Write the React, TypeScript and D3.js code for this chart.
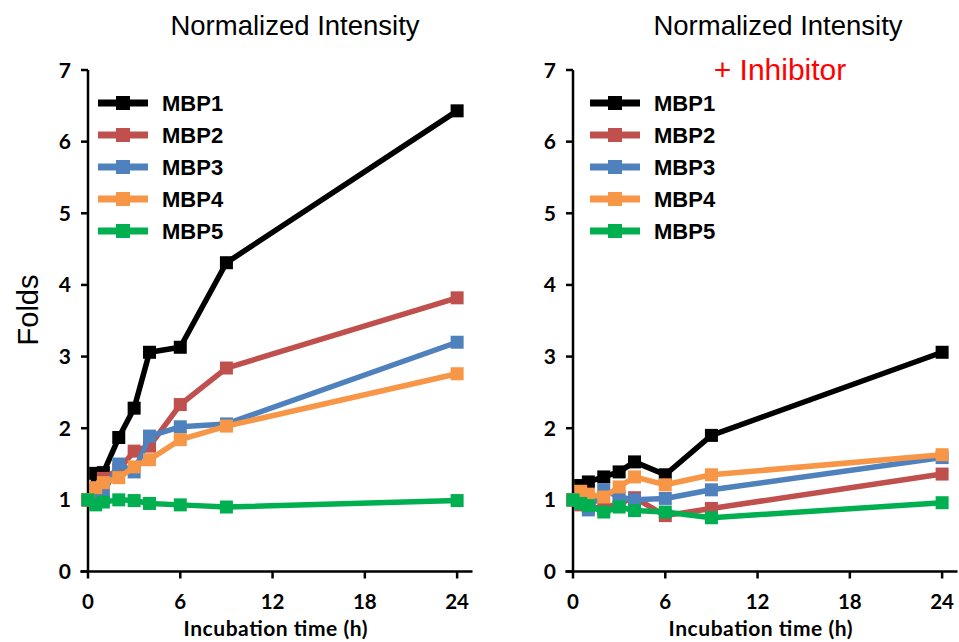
import React from "react";
import * as d3 from "d3";

// Sampling times (hours)
const times = [0, 0.5, 1, 2, 3, 4, 6, 9, 24];
const seriesNames = ["MBP1", "MBP2", "MBP3", "MBP4", "MBP5"];
const seriesColors = ["#000000", "#C0504D", "#4F81BD", "#F79646", "#00B050"];

// Normalized intensity (folds), no inhibitor
const mbp1 = [1.0, 1.37, 1.38, 1.87, 2.28, 3.06, 3.13, 4.31, 6.43];
const mbp2 = [1.0, 1.15, 1.3, 1.42, 1.68, 1.75, 2.33, 2.84, 3.82];
const mbp3 = [1.0, 1.05, 1.1, 1.5, 1.39, 1.89, 2.02, 2.06, 3.2];
const mbp4 = [1.0, 1.17, 1.24, 1.31, 1.46, 1.56, 1.84, 2.03, 2.76];
const mbp5 = [1.0, 0.93, 0.97, 1.0, 0.99, 0.95, 0.93, 0.9, 0.99];

// Normalized intensity (folds), + inhibitor
const mbp1Inh = [1.0, 1.2, 1.25, 1.32, 1.39, 1.53, 1.35, 1.9, 3.06];
const mbp2Inh = [1.0, 0.93, 0.9, 0.88, 0.95, 1.03, 0.78, 0.88, 1.36];
const mbp3Inh = [1.0, 0.95, 0.86, 1.14, 1.04, 1.0, 1.02, 1.14, 1.59];
const mbp4Inh = [1.0, 1.12, 1.08, 1.04, 1.18, 1.32, 1.21, 1.35, 1.63];
const mbp5Inh = [1.0, 0.95, 0.92, 0.83, 0.9, 0.85, 0.83, 0.75, 0.96];

const xTicks = [0, 6, 12, 18, 24];
const yTicks = [0, 1, 2, 3, 4, 5, 6, 7];

const tickFont = "Lato, 'Open Sans', sans-serif";
const arial = "'Liberation Sans', Arial, sans-serif";

type PanelProps = {
  originX: number;
  series: number[][];
  title: string;
  subtitle?: string;
  titleX: number;
  legendX: number;
};

function Panel({ originX, series, title, subtitle, titleX, legendX }: PanelProps) {
  const pxPerHour = 15.38;
  const x = d3
    .scaleLinear()
    .domain([-0.5, 25])
    .range([originX - 0.5 * pxPerHour, originX + 25 * pxPerHour]);
  const y = d3.scaleLinear().domain([0, 7]).range([571.5, 70]);
  const line = d3
    .line<number>()
    .x((_, i) => x(times[i]))
    .y((d) => y(d));
  const x0 = x(0);
  const m = 13;
  const legendRows = [103, 135, 167, 199, 231];

  return (
    <g>
      {/* titles */}
      <text x={titleX} y={35} textAnchor="middle" fontFamily={arial} fontSize={27.5} fill="#000">
        {title}
      </text>
      {subtitle && (
        <text x={titleX + 2} y={80} textAnchor="middle" fontFamily={arial} fontSize={30} fill="#FF0000">
          {subtitle}
        </text>
      )}

      {/* y axis */}
      <line x1={x0} x2={x0} y1={y(7)} y2={y(0)} stroke="#000" strokeWidth={2.5} />
      {yTicks.map((t) => (
        <g key={t}>
          <line x1={x0 - 7} x2={x0} y1={y(t)} y2={y(t)} stroke="#000" strokeWidth={2.5} />
          <text
            x={x0 - 17}
            y={y(t)}
            dy="0.36em"
            textAnchor="end"
            fontFamily={tickFont}
            fontWeight={700}
            fontSize={21}
          >
            {t}
          </text>
        </g>
      ))}

      {/* x axis */}
      <line x1={x.range()[0]} x2={x.range()[1]} y1={y(0)} y2={y(0)} stroke="#000" strokeWidth={2.5} />
      {xTicks.map((t) => (
        <g key={t}>
          <line x1={x(t)} x2={x(t)} y1={y(0)} y2={y(0) + 7} stroke="#000" strokeWidth={2.5} />
          <text
            x={x(t)}
            y={609}
            textAnchor="middle"
            fontFamily={tickFont}
            fontWeight={700}
            fontSize={20.5}
          >
            {t}
          </text>
        </g>
      ))}
      <text
        x={(x(0) + x(24)) / 2 + 3}
        y={636}
        textAnchor="middle"
        fontFamily={tickFont}
        fontWeight={700}
        fontSize={21}
        textLength={184}
        lengthAdjust="spacing"
      >
        Incubation time (h)
      </text>

      {/* data series */}
      {series.map((vals, si) => (
        <g key={si}>
          <path d={line(vals) || ""} fill="none" stroke={seriesColors[si]} strokeWidth={5.5} strokeLinejoin="round" />
          {vals.map((v, i) => (
            <rect
              key={i}
              x={x(times[i]) - m / 2}
              y={y(v) - m / 2}
              width={m}
              height={m}
              fill={seriesColors[si]}
            />
          ))}
        </g>
      ))}

      {/* legend */}
      {seriesNames.map((name, si) => (
        <g key={name}>
          <line
            x1={legendX}
            x2={legendX + 50}
            y1={legendRows[si]}
            y2={legendRows[si]}
            stroke={seriesColors[si]}
            strokeWidth={7}
          />
          <rect
            x={legendX + 25 - 7}
            y={legendRows[si] - 7}
            width={14}
            height={14}
            fill={seriesColors[si]}
          />
          <text
            x={legendX + 64}
            y={legendRows[si]}
            dy="0.36em"
            fontFamily={arial}
            fontWeight={700}
            fontSize={22}
          >
            {name}
          </text>
        </g>
      ))}
    </g>
  );
}

export default function App() {
  return (
    <svg
      width={959}
      height={642}
      viewBox="0 0 959 642"
      style={{ position: "absolute", left: 0, top: 0, background: "#fff" }}
    >
      <rect width={959} height={642} fill="#fff" />
      <text
        transform="translate(38,310) rotate(-90)"
        textAnchor="middle"
        fontFamily={arial}
        fontSize={29}
      >
        Folds
      </text>
      <Panel
        originX={88}
        series={[mbp1, mbp2, mbp3, mbp4, mbp5]}
        title="Normalized Intensity"
        titleX={295}
        legendX={98}
      />
      <Panel
        originX={573}
        series={[mbp1Inh, mbp2Inh, mbp3Inh, mbp4Inh, mbp5Inh]}
        title="Normalized Intensity"
        subtitle="+ Inhibitor"
        titleX={778}
        legendX={590}
      />
    </svg>
  );
}
